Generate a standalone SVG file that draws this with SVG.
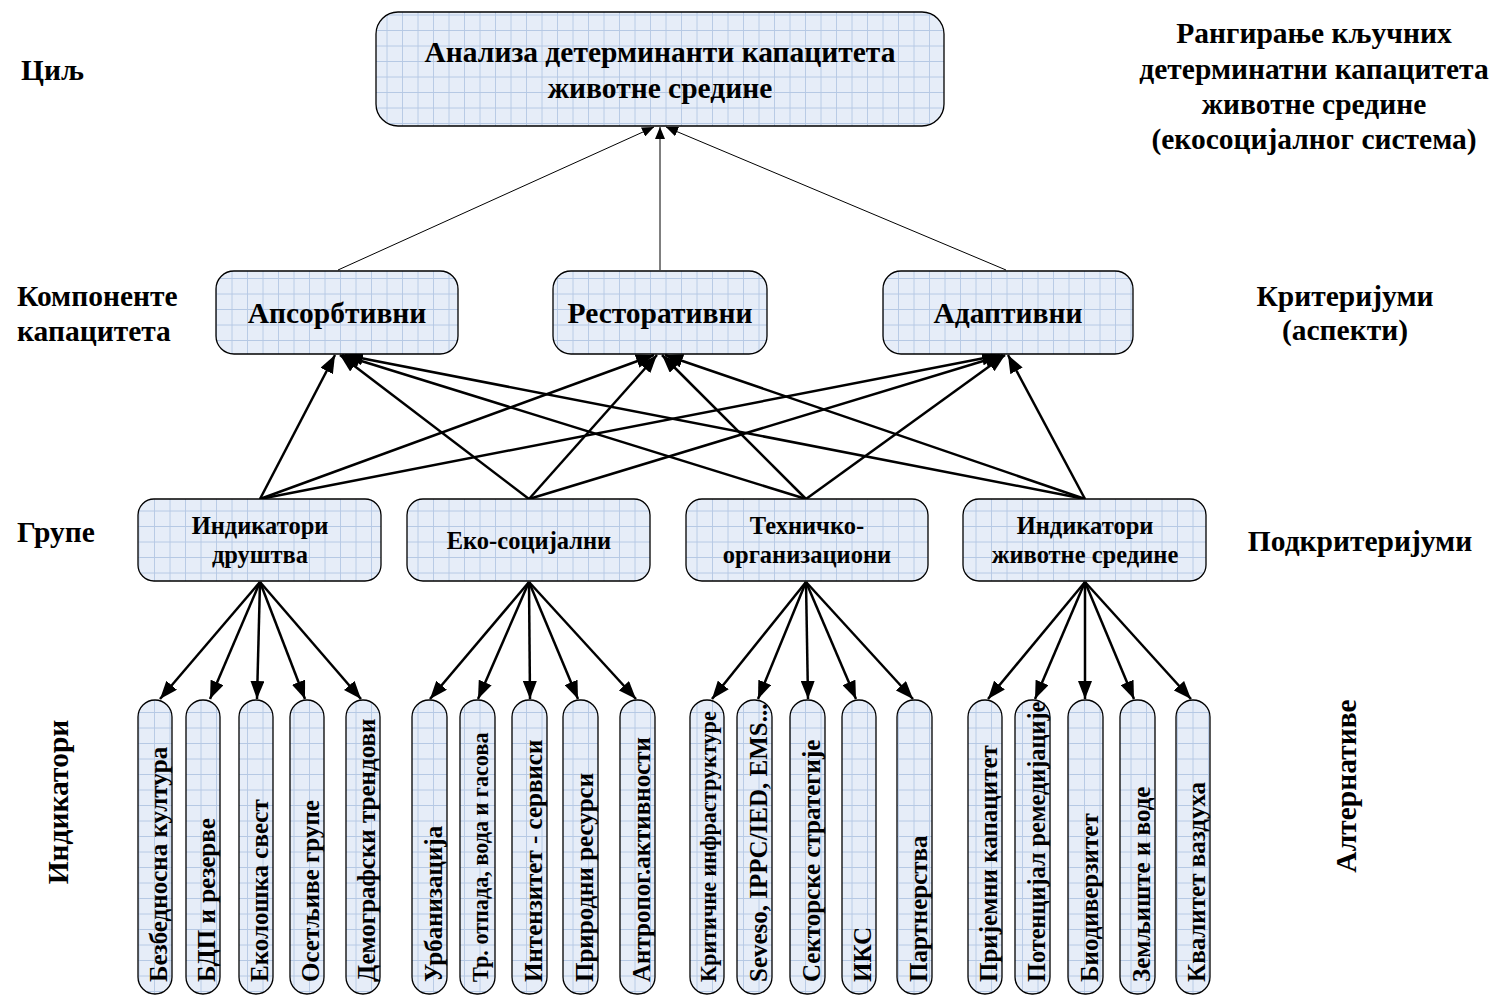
<svg xmlns="http://www.w3.org/2000/svg" width="1495" height="996" viewBox="0 0 1495 996">
  <defs>
    <!-- light blue graph-paper fill used by every box -->
    <pattern id="grid" width="15.5" height="15.5" patternUnits="userSpaceOnUse">
      <rect width="15.5" height="15.5" fill="#e6edf8"/>
      <path d="M15.5 0V15.5M0 15.5H15.5" fill="none" stroke="#b5c8e4" stroke-width="1.8"/>
    </pattern>
    <marker id="thin" viewBox="0 0 12 10" refX="12" refY="5" markerWidth="12" markerHeight="10" markerUnits="userSpaceOnUse" orient="auto">
      <path d="M0 0L12 5L0 10z" fill="#000"/>
    </marker>
    <marker id="bold" viewBox="0 0 18 14" refX="18" refY="7" markerWidth="18" markerHeight="14" markerUnits="userSpaceOnUse" orient="auto">
      <path d="M0 0L18 7L0 14z" fill="#000"/>
    </marker>
  </defs>
  <style>
    .box { fill: url(#grid); stroke: #000; stroke-width: 1.3; }
    text { font-family: "Liberation Serif", "Times New Roman", serif; font-weight: bold; fill: #000; }
    .big { font-size: 29.5px; }
    .grp { font-size: 24.5px; }
    .ind { font-size: 25px; }
    .ind-s { font-size: 22.2px; }
    .mid { text-anchor: middle; }
    .thin { stroke: #000; stroke-width: 1; fill: none; marker-end: url(#thin); }
    .bold { stroke: #000; stroke-width: 2.5; fill: none; marker-end: url(#bold); }
  </style>

  <rect width="1495" height="996" fill="#fff"/>

  <!-- side labels -->
  <g id="labels-left">
    <text class="big" x="21" y="80">Циљ</text>
    <text class="big" x="17" y="306">Компоненте</text>
    <text class="big" x="17" y="341">капацитета</text>
    <text class="big" x="17" y="542">Групе</text>
    <text class="big mid" transform="translate(68 802) rotate(-90)">Индикатори</text>
  </g>
  <g id="labels-right">
    <text class="big mid" x="1314" y="43">Рангирање кључних</text>
    <text class="big mid" x="1314" y="79">детерминатни капацитета</text>
    <text class="big mid" x="1314" y="114">животне средине</text>
    <text class="big mid" x="1314" y="149">(екосоцијалног система)</text>
    <text class="big mid" x="1345" y="306">Критеријуми</text>
    <text class="big mid" x="1345" y="340">(аспекти)</text>
    <text class="big mid" x="1360" y="551">Подкритеријуми</text>
    <text class="big mid" transform="translate(1356 786) rotate(-90)">Алтернативе</text>
  </g>

  <!-- connectors -->
  <g id="connectors">
    <!-- components to goal -->
    <line class="thin" x1="338" y1="270" x2="654" y2="127"/>
    <line class="thin" x1="660" y1="270" x2="660" y2="127"/>
    <line class="thin" x1="1006" y1="270" x2="666" y2="127"/>
    <!-- groups to components -->
    <line class="bold" x1="260" y1="499" x2="335" y2="355"/>
    <line class="bold" x1="260" y1="499" x2="654" y2="355"/>
    <line class="bold" x1="260" y1="499" x2="1000" y2="355"/>
    <line class="bold" x1="529" y1="499" x2="340" y2="355"/>
    <line class="bold" x1="529" y1="499" x2="657" y2="355"/>
    <line class="bold" x1="529" y1="499" x2="1003" y2="355"/>
    <line class="bold" x1="806" y1="499" x2="342" y2="355"/>
    <line class="bold" x1="806" y1="499" x2="662" y2="355"/>
    <line class="bold" x1="806" y1="499" x2="1005" y2="355"/>
    <line class="bold" x1="1085" y1="499" x2="345" y2="355"/>
    <line class="bold" x1="1085" y1="499" x2="665" y2="355"/>
    <line class="bold" x1="1085" y1="499" x2="1008" y2="355"/>
    <!-- groups to indicators -->
    <line class="bold" x1="260" y1="582" x2="160" y2="699"/>
    <line class="bold" x1="260" y1="582" x2="210" y2="699"/>
    <line class="bold" x1="260" y1="582" x2="257" y2="699"/>
    <line class="bold" x1="260" y1="582" x2="305" y2="699"/>
    <line class="bold" x1="260" y1="582" x2="361" y2="699"/>
    <line class="bold" x1="529" y1="582" x2="430" y2="699"/>
    <line class="bold" x1="529" y1="582" x2="478" y2="699"/>
    <line class="bold" x1="529" y1="582" x2="530" y2="699"/>
    <line class="bold" x1="529" y1="582" x2="578" y2="699"/>
    <line class="bold" x1="529" y1="582" x2="636" y2="699"/>
    <line class="bold" x1="806" y1="582" x2="712" y2="699"/>
    <line class="bold" x1="806" y1="582" x2="758" y2="699"/>
    <line class="bold" x1="806" y1="582" x2="808" y2="699"/>
    <line class="bold" x1="806" y1="582" x2="856" y2="699"/>
    <line class="bold" x1="806" y1="582" x2="913" y2="699"/>
    <line class="bold" x1="1085" y1="582" x2="988" y2="699"/>
    <line class="bold" x1="1085" y1="582" x2="1035" y2="699"/>
    <line class="bold" x1="1085" y1="582" x2="1085" y2="699"/>
    <line class="bold" x1="1085" y1="582" x2="1134" y2="699"/>
    <line class="bold" x1="1085" y1="582" x2="1191" y2="699"/>
  </g>

  <!-- goal -->
  <g id="goal">
    <rect class="box" x="376" y="12" width="568" height="114" rx="22"/>
    <text class="big mid" x="660" y="62">Анализа детерминанти капацитета</text>
    <text class="big mid" x="660" y="98">животне средине</text>
  </g>

  <!-- capacity components -->
  <g id="absorptive">
    <rect class="box" x="216" y="271" width="242" height="83" rx="18"/>
    <text class="big mid" x="337" y="323">Апсорбтивни</text>
  </g>
  <g id="restorative">
    <rect class="box" x="553" y="271" width="214" height="83" rx="18"/>
    <text class="big mid" x="660" y="323">Ресторативни</text>
  </g>
  <g id="adaptive">
    <rect class="box" x="883" y="271" width="250" height="83" rx="18"/>
    <text class="big mid" x="1008" y="323">Адаптивни</text>
  </g>

  <!-- groups -->
  <g id="society">
    <rect class="box" x="138" y="499" width="243" height="82" rx="16"/>
    <text class="grp mid" x="260" y="534">Индикатори</text>
    <text class="grp mid" x="260" y="563">друштва</text>
  </g>
  <g id="eco-social">
    <rect class="box" x="407" y="499" width="243" height="82" rx="16"/>
    <text class="grp mid" x="529" y="549">Еко-социјални</text>
  </g>
  <g id="technical">
    <rect class="box" x="686" y="499" width="242" height="82" rx="16"/>
    <text class="grp mid" x="807" y="534">Техничко-</text>
    <text class="grp mid" x="807" y="563">организациони</text>
  </g>
  <g id="environment">
    <rect class="box" x="963" y="499" width="243" height="82" rx="16"/>
    <text class="grp mid" x="1085" y="534">Индикатори</text>
    <text class="grp mid" x="1085" y="563">животне средине</text>
  </g>

  <!-- indicators: society -->
  <g id="ind-1"><rect class="box" x="138" y="700" width="34" height="294" rx="17"/><text class="ind" transform="translate(167 982) rotate(-90)">Безбедносна култура</text></g>
  <g id="ind-2"><rect class="box" x="186" y="700" width="34" height="294" rx="17"/><text class="ind" transform="translate(215 982) rotate(-90)">БДП и резерве</text></g>
  <g id="ind-3"><rect class="box" x="239" y="700" width="34" height="294" rx="17"/><text class="ind" transform="translate(268 982) rotate(-90)">Еколошка свест</text></g>
  <g id="ind-4"><rect class="box" x="290" y="700" width="34" height="294" rx="17"/><text class="ind" transform="translate(319 982) rotate(-90)">Осетљиве групе</text></g>
  <g id="ind-5"><rect class="box" x="346" y="700" width="34" height="294" rx="17"/><text class="ind" transform="translate(375 982) rotate(-90)">Демографски трендови</text></g>

  <!-- indicators: eco-social -->
  <g id="ind-6"><rect class="box" x="412" y="700" width="35" height="294" rx="17"/><text class="ind" transform="translate(442 982) rotate(-90)">Урбанизација</text></g>
  <g id="ind-7"><rect class="box" x="460" y="700" width="35" height="294" rx="17"/><text class="ind-s" transform="translate(488 982) rotate(-90)">Тр. отпада, вода и гасова</text></g>
  <g id="ind-8"><rect class="box" x="512" y="700" width="35" height="294" rx="17"/><text class="ind" transform="translate(542 982) rotate(-90)">Интензитет - сервиси</text></g>
  <g id="ind-9"><rect class="box" x="563" y="700" width="35" height="294" rx="17"/><text class="ind" transform="translate(593 982) rotate(-90)">Природни ресурси</text></g>
  <g id="ind-10"><rect class="box" x="620" y="700" width="35" height="294" rx="17"/><text class="ind" transform="translate(650 982) rotate(-90)">Антропог.активности</text></g>

  <!-- indicators: technical-organisational -->
  <g id="ind-11"><rect class="box" x="690" y="700" width="34" height="294" rx="17"/><text class="ind-s" transform="translate(716 982) rotate(-90)">Критичне инфраструктуре</text></g>
  <g id="ind-12"><rect class="box" x="737" y="700" width="35" height="294" rx="17"/><text class="ind" transform="translate(767 982) rotate(-90)">Seveso, IPPC/IED, EMS...</text></g>
  <g id="ind-13"><rect class="box" x="790" y="700" width="35" height="294" rx="17"/><text class="ind" transform="translate(820 982) rotate(-90)">Секторске стратегије</text></g>
  <g id="ind-14"><rect class="box" x="842" y="700" width="34" height="294" rx="17"/><text class="ind" transform="translate(871 982) rotate(-90)">ИКС</text></g>
  <g id="ind-15"><rect class="box" x="897" y="700" width="35" height="294" rx="17"/><text class="ind" transform="translate(927 982) rotate(-90)">Партнерства</text></g>

  <!-- indicators: environment -->
  <g id="ind-16"><rect class="box" x="968" y="700" width="34" height="294" rx="17"/><text class="ind" transform="translate(997 982) rotate(-90)">Пријемни капацитет</text></g>
  <g id="ind-17"><rect class="box" x="1015" y="700" width="35" height="294" rx="17"/><text class="ind" style="font-size:24.3px" transform="translate(1045 982) rotate(-90)">Потенцијал ремедијације</text></g>
  <g id="ind-18"><rect class="box" x="1068" y="700" width="35" height="294" rx="17"/><text class="ind" transform="translate(1098 982) rotate(-90)">Биодиверзитет</text></g>
  <g id="ind-19"><rect class="box" x="1120" y="700" width="35" height="294" rx="17"/><text class="ind" transform="translate(1150 982) rotate(-90)">Земљиште и воде</text></g>
  <g id="ind-20"><rect class="box" x="1176" y="700" width="34" height="294" rx="17"/><text class="ind" transform="translate(1205 982) rotate(-90)">Квалитет ваздуха</text></g>
</svg>
